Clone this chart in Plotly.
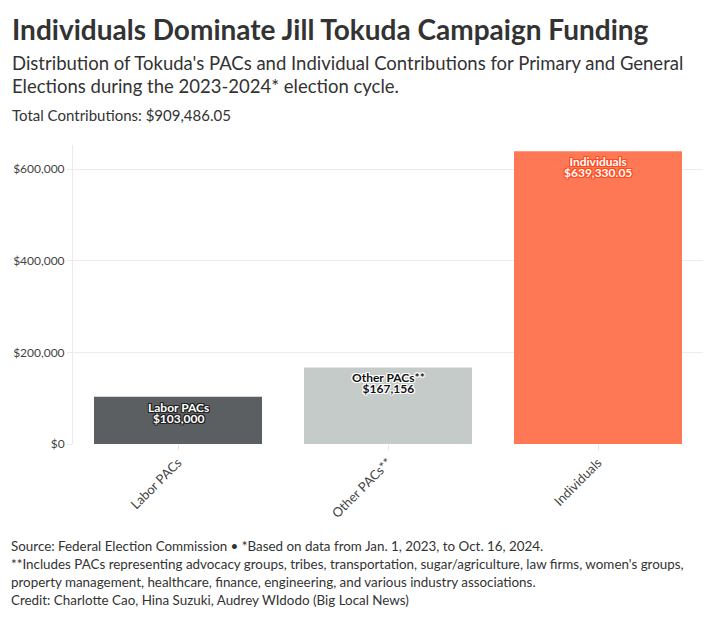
import plotly.graph_objects as go

# data
categories = ['Labor PACs', 'Other PACs**', 'Individuals']
amounts = [103000, 167156, 639330.05]
amount_text = ['$103,000', '$167,156', '$639,330.05']
bar_colors = ['#5c5f62', '#c4cbc8', '#ff7855']
label_colors = ['#ffffff', '#111111', '#ffffff']
halo_colors = ['#222222', '#ffffff', '#ff4a1c']

title = 'Individuals Dominate Jill Tokuda Campaign Funding'
subtitle = ["Distribution of Tokuda's PACs and Individual Contributions for Primary and General",
            "Elections during the 2023-2024* election cycle."]
total_line = 'Total Contributions: $909,486.05'
caption = ['Source: Federal Election Commission \u2022 *Based on data from Jan. 1, 2023, to Oct. 16, 2024.',
           "**Includes PACs representing advocacy groups, tribes, transportation, sugar/agriculture, law firms, women's groups,",
           'property management, healthcare, finance, engineering, and various industry associations.',
           'Credit: Charlotte Cao, Hina Suzuki, Audrey WIdodo (Big Local News)']

# the page puts the figure 8px in from the top-left corner
OFFX, OFFY = 8, 8
W, H = 724, 618 - OFFY
ML, MR, MT, MB = 73 - OFFX, 21 + OFFX, 145 - OFFY, 174
PW = W - ML - MR
PH = H - MT - MB

FONT = 'Source Sans Pro, Lato, sans-serif'


def px(x):
    return (x - OFFX - ML) / PW


def py(y):
    return (H - MB - (y - OFFY)) / PH


def halo(c):
    offs = [(-1, -1), (1, -1), (-1, 1), (1, 1), (0, -1), (0, 1), (-1, 0), (1, 0)]
    return ', '.join(f'{a}px {b}px 0px {c}' for a, b in offs)


def big(s):
    return '<span style="font-size:12px"><b>' + s + '</b></span>'


fig = go.Figure()
fig.add_trace(go.Bar(
    x=categories, y=amounts,
    marker=dict(color=bar_colors, line=dict(width=0)),
    showlegend=False, hoverinfo='skip',
))

annos = []
# labels inside the top of each bar; small base size keeps the two lines tight
for i in range(len(categories)):
    annos.append(dict(
        text=big(categories[i]) + '<br>' + big(amount_text[i]),
        x=categories[i], y=amounts[i],
        xref='x', yref='y', yanchor='top', yshift=-3, showarrow=False,
        borderpad=0, borderwidth=0,
        font=dict(family=FONT, size=8.5, color=label_colors[i],
                  shadow=halo(halo_colors[i])),
    ))

head = []
head.append(dict(text='<b>' + title + '</b>', x=px(10), y=py(29), yanchor='middle',
                 font=dict(size=28, color='#333333', family=FONT)))
for k, line in enumerate(subtitle):
    head.append(dict(text=line, x=px(10), y=py(63 + 23 * k), yanchor='middle',
                     font=dict(size=18.5, color='#333333', family=FONT)))
head.append(dict(text=total_line, x=px(10), y=py(115), yanchor='middle',
                 font=dict(size=15, color='#333333', family=FONT)))
for k, line in enumerate(caption):
    head.append(dict(text=line, x=px(9), y=py(546 + 18 * k), yanchor='middle',
                     font=dict(size=13.4, color='#333333', family=FONT)))
for a in head:
    a.update(xref='paper', yref='paper', xanchor='left', showarrow=False, align='left')
annos += head

fig.update_layout(
    width=W, height=H,
    margin=dict(l=ML, r=MR, t=MT, b=MB),
    plot_bgcolor='white', paper_bgcolor='white',
    bargap=0.2,
    annotations=annos,
    font=dict(family=FONT, color='#444444'),
)
fig.update_xaxes(
    range=[-0.5, 2.5], tickangle=-45, ticks='outside', ticklen=5, tickcolor='#e5e5e5',
    showgrid=False, showline=False, zeroline=False, automargin=False,
    tickfont=dict(family='Lato, sans-serif', size=13, color='#444444'),
)
fig.update_yaxes(
    range=[0, 653000], tickvals=[0, 200000, 400000, 600000],
    ticktext=['$0', '$200,000', '$400,000', '$600,000'],
    ticks='outside', ticklen=5, tickcolor='#ebebeb', automargin=False,
    showgrid=True, gridcolor='#ebebeb', gridwidth=1,
    showline=True, linecolor='#ebebeb', linewidth=1, zeroline=False,
    tickfont=dict(family='Lato, sans-serif', size=12, color='#444444'),
)

fig.write_html('out.html')
